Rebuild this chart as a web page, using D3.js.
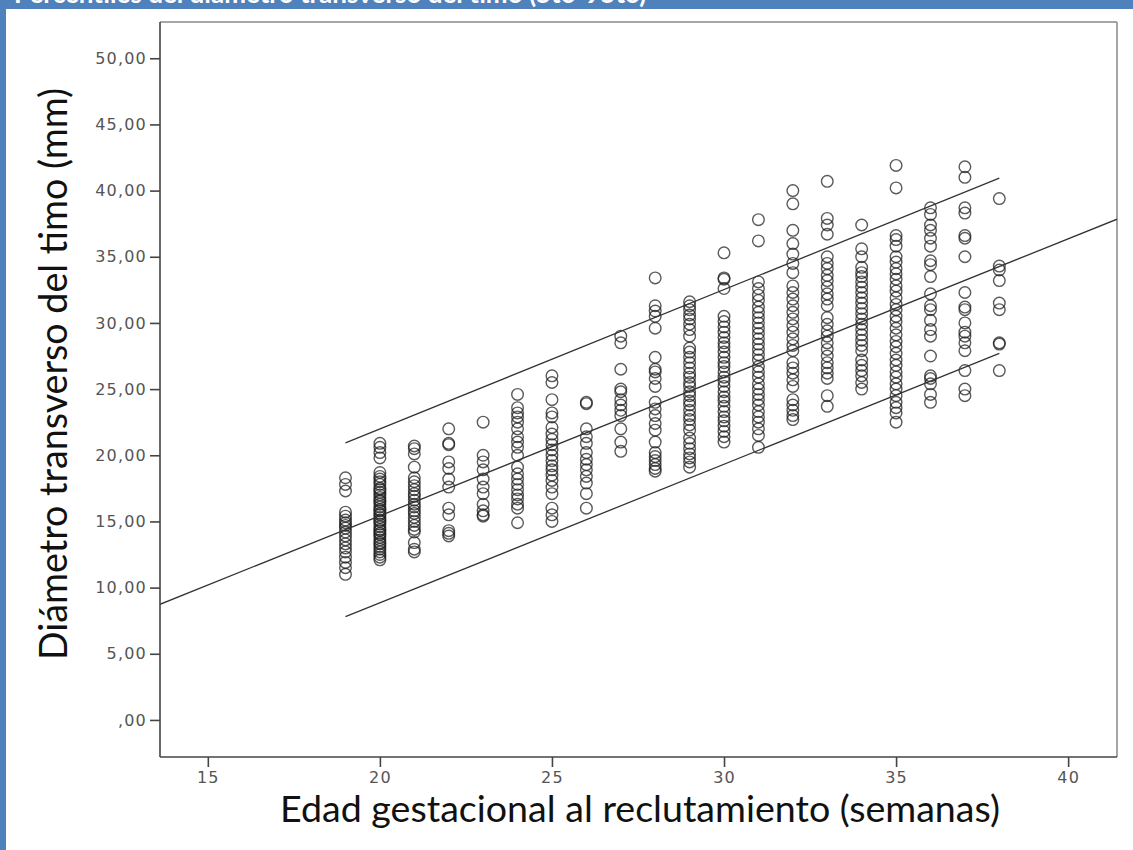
<!DOCTYPE html>
<html>
<head>
<meta charset="utf-8">
<script src="https://cdn.jsdelivr.net/npm/d3@7"></script>
<style>
  html, body { margin: 0; padding: 0; background: #fff; }
  svg { display: block; }
</style>
</head>
<body>
<svg id="chart" width="1133" height="850"></svg>
<script>
// ---------- data ----------
const weeks = [19,20,21,22,23,24,25,26,27,28,29,30,31,32,33,34,35,36,37,38];
const w19 = [18.3,17.8,17.3,15.7,15.4,15.1,14.9,14.7,14.5,14.2,13.9,13.6,13.3,13.0,12.7,12.3,11.9,11.5,11.0];
const w20 = [20.9,20.6,20.2,19.8,18.7,18.4,18.2,18.0,17.8,17.5,17.4,17.2,17.0,16.8,16.6,16.5,16.3,16.1,15.9,15.8,15.6,15.5,15.3,15.1,15.0,14.8,14.6,14.4,14.3,14.1,14.0,13.8,13.6,13.4,13.3,13.1,12.9,12.7,12.5,12.3,12.1];
const w21 = [20.7,20.5,20.1,19.1,18.3,18.0,17.7,17.4,17.1,16.9,16.6,16.3,16.1,15.8,15.6,15.3,15.0,14.7,14.4,14.2,13.4,12.9,12.7];
const w22 = [22.0,20.9,20.8,19.5,19.0,18.2,17.6,16.0,15.5,14.3,14.1,13.9];
const w23 = [22.5,20.0,19.5,18.9,18.2,17.6,17.1,16.3,15.8,15.5,15.4];
const w24 = [24.6,23.6,23.2,22.9,22.5,22.0,21.4,21.0,20.6,20.0,19.1,18.6,18.2,17.8,17.4,17.0,16.7,16.3,16.0,14.9];
const w25 = [26.0,25.5,24.2,23.2,22.9,22.1,21.6,21.2,20.8,20.4,20.0,19.6,19.2,18.9,18.5,18.1,17.6,17.1,16.0,15.5,15.0];
const w26 = [24.0,23.9,22.0,21.4,20.9,20.2,19.7,19.3,18.9,18.4,17.9,17.1,16.0];
const w27 = [29.0,28.5,26.5,25.0,24.8,24.2,23.8,23.4,23.0,22.0,21.0,20.3];
const w28 = [33.4,31.3,30.9,30.5,29.6,27.4,26.5,26.3,25.8,25.2,24.0,23.5,23.0,22.4,21.9,21.0,20.2,19.9,19.6,19.3,19.0,18.8];
const w29 = [31.6,31.3,31.0,30.6,30.3,29.9,29.5,29.0,28.1,27.8,27.4,27.0,26.6,26.2,25.9,25.5,25.2,24.8,24.5,24.1,23.8,23.4,23.0,22.7,22.3,21.9,21.3,20.9,20.5,20.1,19.8,19.5,19.1];
const w30 = [35.3,33.4,33.3,32.6,30.5,30.1,29.7,29.3,28.9,28.5,28.2,27.8,27.4,27.0,26.7,26.3,25.9,25.6,25.2,24.8,24.4,24.1,23.7,23.3,22.9,22.6,22.2,21.8,21.4,21.0];
const w31 = [37.8,36.2,33.1,32.6,32.1,31.7,31.2,30.8,30.4,30.0,29.6,29.2,28.8,28.4,28.0,27.6,27.2,26.7,26.3,25.9,25.4,25.0,24.6,24.2,23.8,23.3,22.9,22.5,22.0,21.5,20.6];
const w32 = [40.0,39.0,37.0,36.0,35.2,34.5,33.8,32.8,32.3,31.8,31.3,30.8,30.3,29.8,29.3,28.8,28.3,27.9,27.0,26.6,26.2,25.7,25.2,24.2,23.8,23.4,23.0,22.7];
const w33 = [40.7,37.9,37.4,36.7,35.0,34.5,34.1,33.6,33.2,32.7,32.2,31.8,31.3,30.4,29.9,29.4,29.0,28.5,28.0,27.5,27.0,26.6,26.2,25.8,24.5,23.7];
const w34 = [37.4,35.6,35.0,34.2,33.8,33.5,33.1,32.7,32.3,31.9,31.5,31.1,30.7,30.3,29.9,29.5,29.1,28.7,28.3,27.9,27.2,26.8,26.4,26.0,25.5,25.0];
const w35 = [41.9,40.2,36.6,36.3,35.8,35.0,34.6,34.1,33.7,33.3,32.8,32.4,31.9,31.4,31.0,30.5,30.1,29.6,29.1,28.6,28.2,27.7,27.2,26.8,26.3,25.9,25.4,25.0,24.5,24.0,23.6,23.2,22.5];
const w36 = [38.7,38.2,37.4,37.0,36.4,35.8,34.7,34.4,33.5,32.2,31.3,31.0,30.2,29.5,29.0,27.5,26.0,25.8,25.4,24.6,24.0];
const w37 = [41.8,41.0,38.7,38.3,36.6,36.4,35.0,32.3,31.2,31.0,30.0,29.3,29.0,28.5,27.9,26.4,25.0,24.5];
const w38 = [39.4,34.3,34.0,33.2,31.5,31.0,28.5,28.4,26.4];
const columns = [w19,w20,w21,w22,w23,w24,w25,w26,w27,w28,w29,w30,w31,w32,w33,w34,w35,w36,w37,w38];

// reference lines (mean fit and 5th / 95th percentile)
const fitLine = [{x:13.61, y:8.74}, {x:41.42, y:37.84}];
const p95Line = [{x:19, y:20.94}, {x:38, y:40.94}];
const p5Line  = [{x:19, y:7.8},  {x:38, y:27.7}];

const xTicks = [15,20,25,30,35,40];
const yTicks = [0,5,10,15,20,25,30,35,40,45,50];

const headerTitle = "Percentiles del diámetro transverso del timo (5to-95to)";
const xTitle = "Edad gestacional al reclutamiento (semanas)";
const yTitle = "Diámetro transverso del timo (mm)";

// ---------- drawing ----------
const svg = d3.select("#chart");
const L = 160, R = 1117, T = 22, B = 757;

const x = d3.scaleLinear().domain([13.61, 41.42]).range([L, R]);
const y = d3.scaleLinear().domain([-2.8, 52.74]).range([B, T]);

// page decoration
svg.append("rect").attr("x",0).attr("y",0).attr("width",1133).attr("height",9).attr("fill","#4f81bd");
svg.append("rect").attr("x",0).attr("y",0).attr("width",6).attr("height",850).attr("fill","#4f81bd");
svg.append("text").attr("x",14).attr("y",3).attr("fill","#fff")
  .attr("font-family","Lato, sans-serif").attr("font-weight","bold").attr("font-size",26)
  .text(headerTitle);

// frame (top and right)
svg.append("line").attr("x1",L).attr("x2",R).attr("y1",T).attr("y2",T).attr("stroke","#888").attr("stroke-width",1.5);
svg.append("line").attr("x1",R).attr("x2",R).attr("y1",T).attr("y2",B).attr("stroke","#888").attr("stroke-width",1.5);

svg.append("defs").append("clipPath").attr("id","clip")
  .append("rect").attr("x",L).attr("y",T).attr("width",R-L).attr("height",B-T);

const plot = svg.append("g").attr("clip-path","url(#clip)");

// points
const pts = [];
columns.forEach((col,i) => col.forEach(v => pts.push({w: weeks[i], v})));
plot.append("g").selectAll("circle").data(pts).join("circle")
  .attr("cx", d => x(d.w)).attr("cy", d => y(d.v)).attr("r", 5.8)
  .attr("fill","none").attr("stroke","#1a1a1a").attr("stroke-opacity",0.72).attr("stroke-width",1.4);

// lines
const lineGen = d3.line().x(d => x(d.x)).y(d => y(d.y));
[fitLine, p95Line, p5Line].forEach(ln => {
  plot.append("path").attr("d", lineGen(ln)).attr("fill","none")
    .attr("stroke","#333").attr("stroke-width",1.3);
});

// axes
const fmt = d => d === 0 ? ",00" : d3.format(".2f")(d).replace(".", ",");
const xAxis = svg.append("g").attr("transform",`translate(0,${B})`)
  .call(d3.axisBottom(x).tickValues(xTicks).tickSize(10).tickSizeOuter(0).tickPadding(5));
const yAxis = svg.append("g").attr("transform",`translate(${L},0)`)
  .call(d3.axisLeft(y).tickValues(yTicks).tickFormat(fmt).tickSize(10).tickSizeOuter(0).tickPadding(3));

[xAxis, yAxis].forEach(a => {
  a.select(".domain").attr("stroke","#444").attr("stroke-width",1.6);
  a.selectAll(".tick line").attr("stroke","#444").attr("stroke-width",1.6);
  a.selectAll(".tick text").attr("fill","#555").attr("font-family","DejaVu Sans, sans-serif")
    .attr("font-size",16).attr("letter-spacing",1.2);
});
xAxis.select(".domain").attr("d", `M${L},0H${R}`);
yAxis.select(".domain").attr("d", `M0,${T}V${B}`);

// titles
svg.append("text").attr("x", 640).attr("y", 822).attr("text-anchor","middle")
  .attr("font-family","Lato, sans-serif").attr("font-size",36).attr("fill","#111")
  .attr("textLength",720).attr("lengthAdjust","spacingAndGlyphs")
  .text(xTitle);
svg.append("text").attr("transform","translate(67,374) rotate(-90)").attr("text-anchor","middle")
  .attr("font-family","Lato, sans-serif").attr("font-size",38).attr("fill","#111")
  .attr("textLength",572).attr("lengthAdjust","spacingAndGlyphs")
  .text(yTitle);
</script>
</body>
</html>
